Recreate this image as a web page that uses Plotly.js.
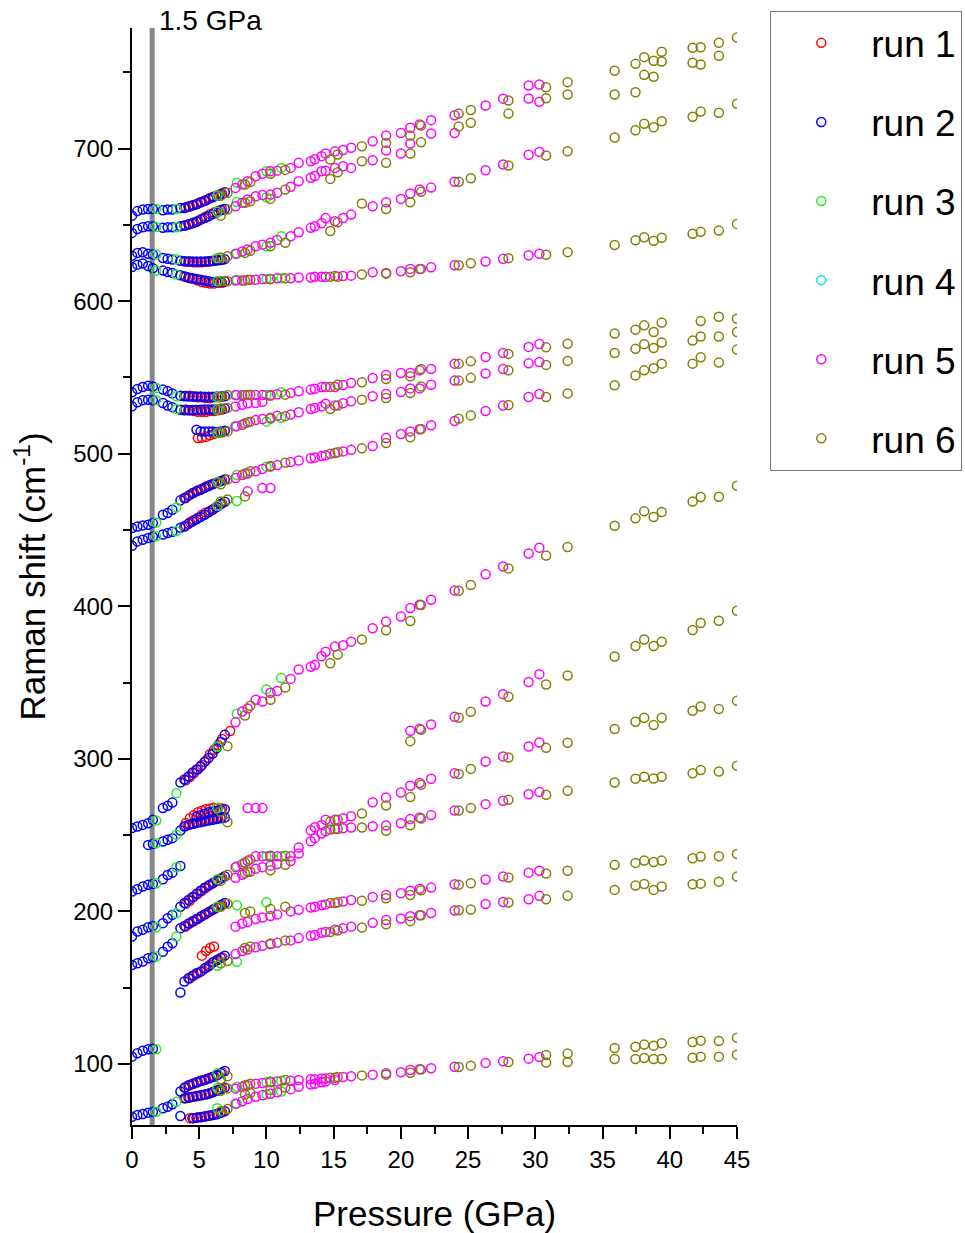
<!DOCTYPE html>
<html>
<head>
<meta charset="utf-8">
<script src="https://cdn.plot.ly/plotly-3.0.1.min.js"></script>
<style>
  html, body { margin: 0; padding: 0; background: #ffffff; }
  #chart { width: 965px; height: 1233px; }
</style>
</head>
<body>
<div id="chart"></div>
<script>
// ---------------- DATA (pressure in GPa, Raman shift in cm-1) ----------------
// Each run: one pressure list, and a list of modes (peak positions) aligned to it (null = no peak).
const runNames = ["run 1", "run 2", "run 3", "run 4", "run 5", "run 6"];
const runColors = ["#FF0000", "#0000FF", "#22EE22", "#00E5EE", "#FF00FF", "#808000"];

// run 1 (red)
const run1P = [4.0, 4.3, 4.6, 4.9, 5.2, 5.5, 5.8, 6.1, 6.4, 6.7, 7.3];
const run1Modes = [
  [661.5, 662, 663, 664, 665, 666, 667.5, 668.5, 669.5, 670.5, null],
  [649.5, 650.5, 651.5, 652.5, 654, 655.5, 657, 658, 659, 660, null],
  [626, 626, 625.5, 625.5, 625.5, 625.8, 626, 626.3, 626.7, 627, null],
  [616, 615, 614.5, 613.5, 612.5, 612, 611.5, 611.5, 612, 612, null],
  [538, 538, 537.5, 537, 537, 536.5, 536.5, 537, 537, 537.5, null],
  [529, 528.5, 528, 527.5, 527.5, 527.5, 528, 528, 528.5, 529, null],
  [null, null, null, 510.3, 510.5, 511, 512, 513, 513.5, 514, null],
  [471, 473, 474.5, 476, 477, 478.5, 479.5, 480.5, 481.5, 482.5, null],
  [453, 455, 456.5, 458, 460, 461.5, 462.5, 464, 466, 467.5, null],
  [286, 288, 290.5, 293, 296, 299, 303, 306, 309, 313, 318.2],
  [258, 261, 263, 265, 266, 267, 267.5, 268, 268, 267.5, null],
  [256, 257, 257.5, 258.5, 259.5, 260, 260.5, 261, 261.5, 262, null],
  [205, 207, 209.5, 211.5, 213.5, 215.5, 217.5, 219, 220.5, 222, null],
  [190, 192, 193.5, 195, 197, 198.5, 200, 201.5, 203, 204.5, null],
  [null, 156, 158, 159.5, 161, 163, 165, 167, 168.5, 170, null],
  [null, null, null, null, 171, 174, 176, 177, null, null, null],
  [84.5, 86, 87, 88, 89, 90, 91, 92, 93, 94.5, null],
  [77.5, 78, 78.5, 79, 79.5, 80, 81, 82, 83, 84, null],
  [null, 64.5, 64.5, 65, 65.3, 65.7, 66.2, 66.8, 67.5, 68.5, null]
];

// run 2 (blue)
const run2P = [0, 0.4, 0.8, 1.2, 1.55, 2.3, 2.65, 3.0, 3.6, 3.9, 4.2, 4.5, 4.8, 5.1, 5.4, 5.7, 6.0, 6.3, 6.6, 6.9];
const run2Modes = [
  [656, 659, 660, 660.4, 660.4, 659.5, 660, 660, 661, 661, 662, 662.8, 663.5, 664.8, 665.8, 667, 668, 669, 670, 671.4],
  [644.7, 647.3, 648.4, 649.1, 649, 648, 648.4, 648.4, 649, 649.5, 650.3, 651, 652, 653.4, 654.5, 655.6, 657, 658, 659.5, 660.4],
  [629.8, 631.6, 632, 631, 630.5, 628.3, 627.7, 627.2, 626.5, 626.1, 626, 626, 626, 626, 626, 626.2, 626.5, 626.8, 627, 627.5],
  [622.4, 623.9, 624.6, 623, 621.5, 620, 619, 618.5, 617, 616.2, 615.5, 615, 614.5, 614, 613.5, 613, 612.5, 612.5, 612.5, 612.8],
  [540.2, 542.4, 543.7, 544.6, 544, 542, 541, 539.5, 538, 537.6, 537.5, 537.5, 537.4, 537.4, 537.3, 537.3, 537.3, 537.4, 537.5, 537.6],
  [531.1, 533.7, 535.1, 535.4, 535, 533.2, 531.5, 530.5, 528.8, 528.4, 528.5, 528.6, 528.7, 528.8, 528.9, 529, 529, 529.2, 529.4, 529.6],
  [null, null, null, null, null, null, null, null, null, null, null, null, 515.7, 514.6, 514.6, 514.6, 514.5, 514, 514.5, 515],
  [451.3, 452.3, 453, 453.4, 454.5, 460, 461.1, 463.3, 469.4, 471, 472.5, 474, 475.3, 476.4, 477.6, 478.8, 480, 481, 482, 483],
  [439.7, 442.5, 443.6, 444.7, 445.5, 447, 448, 448.8, 451.5, 452.3, 454, 455.5, 457, 458.5, 460, 461.6, 463.3, 465, 467, 468.5],
  [254.6, 255.6, 256.7, 257.8, 260, 267.7, 269.2, 271.3, 284.5, 286.5, 288.4, 291, 293, 295, 298, 300.5, 303.5, 307, 311, 315.7],
  [null, null, null, 243.6, 244.2, 245.8, 247, 248, 253, 255.6, 256.7, 257.5, 258, 258.5, 259, 259.5, 260, 260.5, 261, 261.5],
  [null, null, null, null, null, null, null, null, null, null, null, null, 262, 263, 264, 265, 265.5, 266, 266.5, 267],
  [213, 214.5, 216.3, 217.4, 218, 221.1, 223.9, 225.4, 229.8, null, null, null, null, null, null, null, null, null, null, null],
  [183.5, 186.8, 187.9, 189.6, 190.5, 192.3, 195.5, 197.7, 203.1, 205.5, 207.5, 209.5, 211.5, 213.5, 215.5, 217, 218.5, 220, 221.5, 223],
  [164.9, 166, 167.1, 169.3, 170, 173.6, 176.9, 179.1, 189, 190.5, 192, 193.5, 195, 196.5, 198, 199.5, 201, 202.5, 204, 205.5],
  [null, null, null, null, null, null, null, null, 146.8, 154, 156.2, 157.8, 159.5, 160.5, 162.5, 164, 166.5, 168, 169.5, 171],
  [104.8, 107, 108.7, 109.6, 110, null, null, null, null, null, null, null, null, null, null, null, null, null, null, null],
  [65.4, 66.6, 67.2, 68.1, 68.5, 71, 72, 73.6, 82, 84.5, 86, 87, 88, 89, 89.5, 90.5, 91.5, 92.5, 94, 95.4],
  [null, null, null, null, null, null, null, null, null, 77.5, 78, 78.5, 79, 79.5, 80, 80.5, 81.5, 82.5, 83.5, 84.5],
  [null, null, null, null, null, null, null, null, 65.9, null, null, 64.5, 64.8, 65, 65.5, 66, 66.5, 67, 68, 69]
];

// run 3 (green)
const run3P = [1.8, 3.3, 6.35, 7.8, 10.0, 11.1];
const run3Modes = [
  [660.4, 660.4, 669.2, 677.5, 685.1, 687.3],
  [648.6, 648.4, 658.5, 665, 668, null],
  [630.5, 627.5, 628.3, 631, 636, 642.5],
  [620, 617.4, 613, 614, 614.5, 615],
  [543.1, 537.6, 537.2, 538.5, 538.5, 540.2],
  [535.1, 529.3, 529, null, null, null],
  [null, null, 513.6, 518, 521, 523.5],
  [454.9, 464.8, 481.2, 486, 491.5, null],
  [445.8, 449.1, 465.9, 469, null, null],
  [259.5, 277.5, 308, 329.5, 345.5, 353],
  [244.7, 250.2, 267.7, null, null, null],
  [218.5, 228.9, null, null, null, null],
  [189.6, 198.8, 221.1, 229.6, 236.2, 236.2],
  [170.4, 183.5, 203, 204, 206, null],
  [null, null, 164.3, 167, null, null],
  [109.6, null, null, null, null, null],
  [68.7, 75.3, 93.9, null, null, null],
  [null, null, 84.1, 85, 88, 89],
  [null, null, 71, 74, 80, 82]
];

// run 4 (cyan) - no visible points
const run4P = [null];
const run4Modes = [[null]];

// run 5 (magenta)
const run5P = [7.7, 8.2, 8.6, 9.2, 9.7, 10.3, 10.8, 11.8, 12.4, 13.3, 13.6, 14.1, 14.4, 15.1, 15.7, 16.3, 17.9, 18.9, 20.0, 20.7, 21.4, 22.25, 24.0, 26.3, 27.6, 29.5, 30.3];
const run5Modes = [
  [674.2, 676.5, 678.6, 681.8, 683.5, 685.1, 685.5, 687.3, 690.6, 691.7, 693, 695, 696.7, 698.2, 699, 700.5, 704.8, 708.5, 710.2, 713.6, 715.7, 718.6, 721.8, 728.2, 732.7, 741.3, 742],
  [662.2, 664.5, 666.6, 668.7, 669.5, 669.8, 671, 674.9, 678.6, 680.8, 682, 685.1, 685.5, 687.3, 688.4, 687.3, 692.3, 698.7, 696.7, 703.3, null, 709.8, 710.2, null, null, 732.8, 730.6],
  [631.1, 632.5, 633.8, 636, 637, 638.2, 640, 642.5, 645.1, 648, 649, 651, 654.5, 652.3, 654.5, 656.7, 662.2, 664.8, 667, 670.5, 673.1, 674.4, 678.2, 685.8, 689.5, 695.9, 697.8],
  [613.5, 613.5, 614, 614, 614.5, 614.5, 615, 615, 615.5, 615.5, 616, 616, 616, 616.5, 616.5, 616.7, 618.9, 618.5, 619.6, 621.1, 621.1, 622.2, 623.5, 626, 627.7, 630.1, 631],
  [538.5, 538.5, 538.5, 538.5, 538.5, 538.5, 539, 539.8, 540.9, 542, 542.5, 543.7, 543.7, 543.7, 545, 546.3, 549.6, 551.6, 552.9, 552.9, 554.6, 555.5, 559, 563.4, 566, 570, 571.9],
  [531, 532, 533, 533.2, 534, null, null, null, null, null, null, null, null, null, null, null, null, null, null, null, null, null, null, null, null, null, null],
  [518, 519, 520.5, 522, 522.7, 523.5, 524.9, 525.6, 527.1, 529.3, 530, 531, 532.8, 531.5, 533, 534.3, 537.6, 539.1, 540.4, 542.8, 542.8, 545.2, 547.9, 552.5, 555.5, 559.2, 560.1],
  [484, 486, 487, 488.5, 490, 491.5, 492.5, 494.5, 495.5, 497, 497.5, 498.5, 499, 500.5, 501.5, 502.5, 505, 510.3, 512.9, 514.6, 516, 518.6, 521.4, 528, 531.5, 537.2, 539.1],
  [null, null, 475.3, null, 477.5, 477.5, null, null, null, null, null, null, null, null, null, null, null, null, null, null, null, null, null, null, null, null, null],
  [323.9, 331, 333, 338.7, 337.6, 343.3, 344.4, 352.4, 358.6, 360.3, 361.5, 367.2, 370.2, 373.6, 374.5, 376.8, 385.5, 390, 393.3, 398.8, 401, 404.3, 410.4, 420.9, 426.1, 434.6, 438.4],
  [null, null, 267.7, 267.7, 267.7, null, null, null, null, null, null, null, null, null, null, null, null, null, null, null, null, null, null, null, null, null, null],
  [229, 231, 233, 236.2, 236.2, 236.5, 236.2, 236.2, 241.9, 253.2, 255.1, 256.7, 260.1, 260, 261, 262.4, 271.5, 274.6, 277.9, 282.3, 284.1, 286.9, 290.6, 298.3, 301.6, 308.1, 310.7],
  [null, null, null, null, null, null, null, null, null, null, null, null, null, null, null, null, null, null, null, 318.4, 319.7, 322.5, 327.5, 337.6, 342.4, 350.3, 355.5],
  [222, 224, 226, 228, 229, 230, 231, 233, 238, 246, 248, 251, 252.5, 254, 254.5, 255, 255.8, 256.3, 257.8, 260.5, 261.5, 263.1, 266.1, 270.3, 272.5, 276.8, 278.2],
  [190, 192, 193, 195, 196, 197, 198, 200, 201, 202.5, 203, 204, 204.5, 205.5, 206.5, 207.5, 209.5, 210.8, 211.9, 213.6, 214.8, 215.6, 217.8, 220.9, 222.8, 225.4, 226.6],
  [172, 174, 175, 176.5, 177.5, 178.5, 179.5, 181, 182.5, 184, 184.5, 186, 186.5, 188, 189, 190, 192.5, 194.4, 195.3, 196.9, 197.5, 199, 200.6, 204.9, 206.2, 208, 210.2],
  [84, 85, 86, 87, 87.5, 88, 88.5, 89, 89.5, 90, 90, 90.5, 90.5, 91, 91.5, 92, 93, 93.9, 94.6, 96.1, 96.5, 97.2, 98.2, 100.7, 101.8, 103.5, 104.6],
  [74, 75.5, 77, 78.5, 79.5, 80.5, 81.5, 83.5, 85, 86.5, 87, 88, 88.5, 89.5, null, null, null, null, null, null, null, null, null, null, null, null, null]
];

// run 6 (olive)
const run6P = [6.6, 7.1, 8.4, 8.8, 10.3, 11.4, 14.75, 15.3, 17.1, 18.9, 20.7, 21.5, 24.3, 25.2, 28.0, 30.8, 32.4, 35.9, 37.45, 38.1, 38.8, 39.4, 41.7, 42.3, 43.65, 45.0];
const run6Modes = [
  [669, 671, 676.4, 678, 683.5, 686, 692.8, 696.1, 701.5, 703.7, 708.5, 715.1, 722.9, 725.2, 731.5, 740.2, 743.5, 751, 755.5, 759.9, 757.5, 763.4, 766, 766.4, 769.3, 772.8],
  [656, 660, 664.4, 665.5, 667, 673.1, 680.1, 684.5, 691.7, 690.6, 696.7, 704.1, 714.5, 716.9, 722.9, 733, 735.4, 735.4, 736.9, 748.3, 747, 757, 756.2, 755.1, 760.8, null],
  [628.5, 629.4, 631.6, 633, 636, 638.2, 646, 651.7, 664, 660.4, 664.8, 671.6, 678.2, 680.5, 688.9, 695.4, 698.2, 707.2, 712, 716.2, 714, 717.9, 720.8, 724.3, 723.4, 729.3],
  [613, 613, 613.5, 614, 614.5, 615, 616, 616, 617.4, 618, 618.9, 621.1, 623.5, 624.8, 628.1, 630.4, 632.1, 636.8, 639.9, 641.8, 639.5, 641.5, 644.1, 645.4, 646.2, 650.6],
  [537.5, 538.5, 538.5, 538.7, 538, 538.7, 543.7, 545.2, 546.8, 549, 550.7, 555.5, 559, 560.5, 565.4, 569.7, 572.1, 578.7, 581.3, 584.1, 579.8, 585.9, null, 586.9, 589.7, 588.4],
  [529.5, 530, null, null, null, null, null, null, null, null, null, null, null, null, null, null, null, null, null, null, null, null, null, null, null, null],
  [514, 514.6, 520, 521, 523, 524.6, 529.3, 531.5, 535.4, 536.5, 539.8, 544.1, 547.9, 549.7, 554.6, 558.2, 560.8, 566, 568.7, 571.8, 569.3, 572.8, 574.1, 576.8, 576.8, 579.8],
  [480, 483, 487, 488.5, 492, 494, 500, 501, 503.5, 507, 510.7, 516.2, 522.9, 525.1, 531.9, 537.2, 539.5, 544.8, 551.3, 554.6, 556, 559, 559, 563.2, 559.7, 568.2],
  [468.7, 470, 472, null, null, null, null, null, null, null, null, null, null, null, null, null, null, null, null, null, null, null, null, null, null, null],
  [null, 308.3, 328.4, 334.8, 338.7, 346.7, 362.6, 368.3, 378.2, 384.3, 390.3, 400.8, 410.2, 413.9, 424.8, 433.3, 438.8, 452.8, 457.6, 462.2, 458.5, 461.8, 468.7, 471.6, 471.8, 479],
  [null, null, null, null, null, null, null, null, null, null, 311.6, 319, 326.9, 330.8, 340.7, 348.7, 354.6, 367.1, 373.9, 378.2, 373.9, 376.7, 384.4, 389, 390.5, 397],
  [265.5, 258.5, null, null, null, null, null, null, null, null, null, null, null, null, null, null, null, null, null, null, null, null, null, null, null, null],
  [220, 224, 232, 234, 236, 236.5, 258.9, 260.1, 264.2, 269.4, 274.9, 283, 290, 293.4, 300.9, 307.2, 310.5, 319.5, 324.3, 326.9, 322.1, 326.9, 331.5, 334.3, 332.6, 338],
  [null, null, 225, 226, 227, 230.5, 253.7, 254, 255, 252.8, 256.5, 260.9, 266.1, 267.7, 273.1, 276.4, 279, 284.5, 286.9, 288.2, 287.1, 288.2, 290.6, 292.6, 291.7, 295.4],
  [203, 205, 199, 200, 201.5, 203, 205.5, 206, 207, 208.6, 210.8, 213.9, 217.4, 218.5, 222.2, 224.8, 226.6, 230.5, 231.8, 233.3, 232.3, 233.3, 234.8, 235.9, 236.1, 237.6],
  [166, 167.5, 176, 177, 179, 181, 186.5, 187.5, 189.5, 191.6, 193.6, 197.5, 200.8, 201.2, 205.8, 208, 210.2, 214.1, 216.9, 218, 214.1, 216.3, 217.8, 218.2, 219.5, 222.8],
  [90, 92, 86, 87, 88.5, 89.5, 91, 91.5, 92.5, 93, 94.3, 96.3, 98, 98.9, 101.3, 100.9, 101.3, 103.3, 103.3, 103.9, 103.3, 103.3, 104.1, 104.8, 104.8, 106.1],
  [null, null, null, null, null, null, null, null, null, null, null, null, null, null, null, 105.9, 106.8, 110.5, 111.3, 112.7, 112, 113.6, 114.4, 115.3, 115.1, 117.2],
  [82.5, 84, 80, 81, 83, 84.5, null, null, null, null, null, null, null, null, null, null, null, null, null, null, null, null, null, null, null, null],
  [69, 70.5, null, null, null, null, null, null, null, null, null, null, null, null, null, null, null, null, null, null, null, null, null, null, null, null]
];

const runPressures = [run1P, run2P, run3P, run4P, run5P, run6P];
const runModes = [run1Modes, run2Modes, run3Modes, run4Modes, run5Modes, run6Modes];

const xTickVals = [0, 5, 10, 15, 20, 25, 30, 35, 40, 45];
const yTickVals = [100, 200, 300, 400, 500, 600, 700];
const markerLine = 1.5;

// ---------------- TRACES ----------------
const traces = runNames.map((name, k) => {
  const xs = [], ys = [];
  runModes[k].forEach(mode => {
    mode.forEach((v, i) => {
      if (v !== null && runPressures[k][i] !== null) { xs.push(runPressures[k][i]); ys.push(v); }
    });
  });
  if (xs.length === 0) { xs.push(null); ys.push(null); }
  return {
    type: 'scatter', mode: 'markers', name: name,
    x: xs, y: ys, legendgroup: 'g' + k,
    marker: { symbol: 'circle-open', size: 9, color: runColors[k], line: { width: markerLine, color: runColors[k] } },
    hoverinfo: 'x+y+name'
  };
});

const fontFam = 'Liberation Sans, Arial, Helvetica, sans-serif';

const layout = {
  width: 965, height: 1233,
  margin: { l: 131.5, r: 228, t: 28, b: 108, pad: 0, autoexpand: false },
  paper_bgcolor: '#ffffff', plot_bgcolor: '#ffffff',
  font: { family: fontFam, color: '#000000', size: 24 },
  showlegend: true,
  legend: {
    x: 1.0545, xanchor: 'left', y: 1.0155, yanchor: 'top',
    bordercolor: '#777777', borderwidth: 1.3, bgcolor: 'rgba(255,255,255,0)',
    font: { family: fontFam, size: 37, color: '#000000' },
    tracegroupgap: 28, itemwidth: 90, traceorder: 'grouped'
  },
  xaxis: {
    range: [0, 45], tickvals: xTickVals, ticktext: xTickVals.map(String),
    showline: true, linecolor: '#000', linewidth: 2, mirror: false,
    ticks: 'outside', ticklen: 12, tickwidth: 2, tickcolor: '#000',
    minor: { ticks: 'outside', ticklen: 7, tickwidth: 2, tickcolor: '#000', dtick: 2.5, tick0: 0, showgrid: false },
    showgrid: false, zeroline: false,
    tickfont: { size: 24, family: fontFam },
    title: { text: 'Pressure (GPa)', font: { size: 35, family: fontFam }, standoff: 30 }
  },
  yaxis: {
    range: [60, 779], tickvals: yTickVals, ticktext: yTickVals.map(String),
    showline: true, linecolor: '#000', linewidth: 2, mirror: false,
    ticks: 'outside', ticklen: 12, tickwidth: 2, tickcolor: '#000',
    minor: { ticks: 'outside', ticklen: 7, tickwidth: 2, tickcolor: '#000', dtick: 50, tick0: 0, showgrid: false },
    showgrid: false, zeroline: false,
    tickfont: { size: 24, family: fontFam },
    title: { text: 'Raman shift (cm<sup>-1</sup>)', font: { size: 35, family: fontFam }, standoff: 17 }
  },
  shapes: [
    { type: 'line', xref: 'x', yref: 'paper', x0: 1.5, x1: 1.5, y0: 0, y1: 1,
      line: { color: '#888888', width: 5 }, layer: 'below' }
  ],
  annotations: [
    { text: '1.5 GPa', xref: 'x', yref: 'paper', x: 1.5, y: 1.0065, xanchor: 'left', yanchor: 'middle',
      xshift: 5, showarrow: false, font: { size: 28, family: fontFam, color: '#000' } }
  ]
};

Plotly.newPlot('chart', traces, layout, { displayModeBar: false, staticPlot: false });
</script>
</body>
</html>
